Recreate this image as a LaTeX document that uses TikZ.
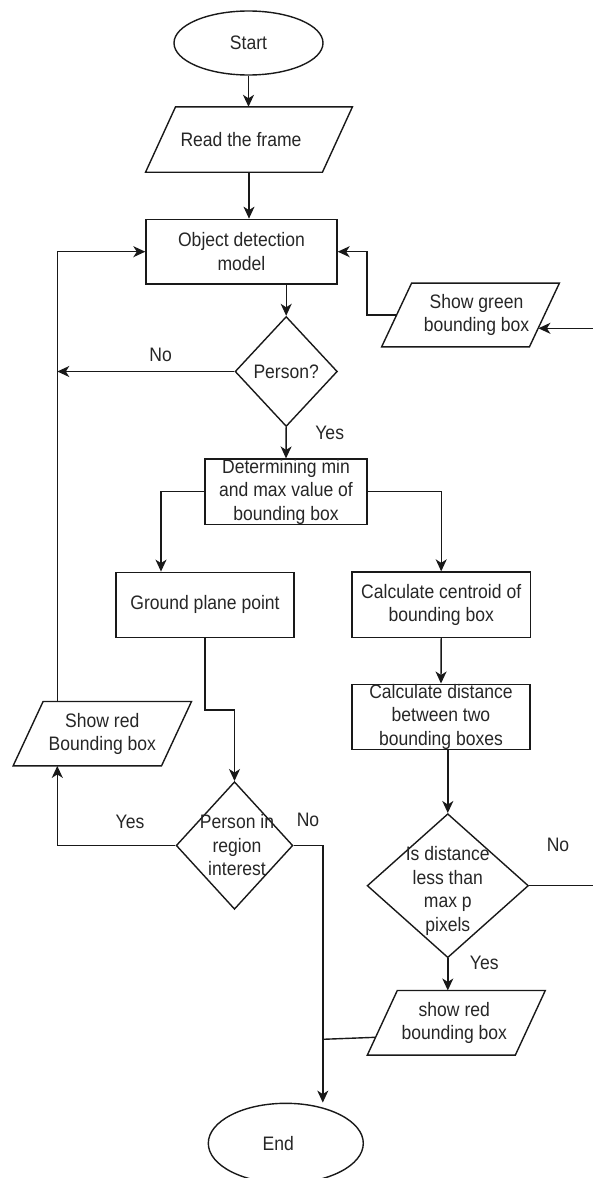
\documentclass[tikz,border=0pt]{standalone}
\usepackage{fontspec}
\setmainfont{Liberation Sans}[FakeStretch=0.9]
\usetikzlibrary{shapes.geometric,arrows.meta,calc}
\tikzset{
  base/.style={inner sep=0pt, text=black!85, font=\fontsize{19.5}{23.5}\selectfont, align=center},
  term/.style={base, ellipse, draw=black!90, line width=1.4pt},
  proc/.style={base, rectangle, draw=black!90, line width=1.4pt},
  iobox/.style={base, rectangle},
  decide/.style={base, diamond, draw=black!90, line width=1.4pt},
  conn/.style={draw=black!90, line width=1.4pt},
  arr/.style={conn, -{Stealth[length=12pt,width=11pt,inset=3.5pt]}},
  lbl/.style={base},
  outline/.style={draw=black!90, line width=1.4pt, line join=miter},
}
\newcommand\iooutline[1]{\draw[outline] ([xshift=15pt]#1.north west) -- ([xshift=15pt]#1.north east) -- ([xshift=-15pt]#1.south east) -- ([xshift=-15pt]#1.south west) -- cycle;}
\begin{document}
\begin{tikzpicture}[x=1pt,y=-1pt]
\useasboundingbox (0,0) rectangle (593,1178);
% nodes
\node[term, minimum width=149pt, minimum height=64pt] (start) at (248.5,43) {Start};
\node[iobox, minimum width=176.5pt, minimum height=65pt, label={[base,xshift=-8pt]center:Read the frame}] (read) at (249,139.5) {};
\node[proc, minimum width=191pt, minimum height=64.7pt] (obj) at (241.5,251.7) {Object detection\\model};
\node[iobox, minimum width=147.4pt, minimum height=63.4pt, label={[base,xshift=6pt]center:{Show green\\bounding box}}] (green) at (470.5,315) {};
\node[decide, minimum width=102.3pt, minimum height=110pt, label={[base]center:Person?}] (person) at (286.2,371.5) {};
\node[proc, minimum width=162pt, minimum height=64.7pt] (det) at (286,491.7) {Determining min\\and max value of\\bounding box};
\node[proc, minimum width=178pt, minimum height=65pt] (ground) at (205,604.8) {Ground plane point};
\node[proc, minimum width=178.3pt, minimum height=65.3pt] (cent) at (441.2,604.7) {Calculate centroid of\\bounding box};
\node[proc, minimum width=178pt, minimum height=65pt] (dist) at (441,716.8) {Calculate distance\\between two\\bounding boxes};
\node[iobox, minimum width=148pt, minimum height=64pt, label={[base]center:{Show red\\Bounding box}}] (redL) at (102.3,733.7) {};
\node[decide, minimum width=116.7pt, minimum height=127.6pt, label={[base,xshift=2.5pt]center:{Person in\\region\\interest}}] (region) at (234.5,845.5) {};
\node[decide, minimum width=161.3pt, minimum height=144pt, label={[base,yshift=-5pt]center:{Is distance\\less than\\max p\\pixels}}] (distd) at (447.8,885.7) {};
\node[iobox, minimum width=147.6pt, minimum height=64.3pt, label={[base,xshift=-2pt]center:{show red\\bounding box}}] (redR) at (456.3,1022.8) {};
\node[term, minimum width=155pt, minimum height=80pt, label={[base,xshift=-7.5pt]center:End}] (end) at (285.8,1143.3) {};
% parallelogram outlines
\iooutline{read}
\iooutline{green}
\iooutline{redL}
\iooutline{redR}
% labels
\node[lbl] (no1) at (160.7,355) {No};
\node[lbl] (yes1) at (329.7,433.3) {Yes};
\node[lbl] (yes2) at (130,821.7) {Yes};
\node[lbl] (no2) at (308,820) {No};
\node[lbl] (no3) at (558,845) {No};
\node[lbl] (yes3) at (484.3,963.3) {Yes};
% connectors
\coordinate (lx) at ([xshift=-45pt]redL.north);
\coordinate (greenin) at ($(green.east)+(-6,13.3)$);
\coordinate (redRin) at ($(redR.west)+(-7,14.5)$);
\coordinate (joinR) at (322.8,1039.3);
\draw[arr] (start.south) -- (start.south |- read.north);
\draw[arr] (read.south) -- (read.south |- obj.north);
\draw[arr] (obj.south -| person.north) -- (person.north);
\draw[arr] (person.south) -- (det.north);
\draw[arr] (person.west) -- (person.west -| lx);
\draw[arr] (lx) |- (obj.west);
\draw[arr] (green.west) -- ++(-29.5,0) |- (obj.east);
\draw[arr] (distd.east) -- ++(68,0) |- (greenin);
\draw[arr] (det.west) -| ([xshift=-44pt]ground.north);
\draw[arr] (det.east) -| (cent.north);
\draw[arr] (cent.south) -- (dist.north);
\draw[arr] (ground.south) -- ++(0,72) -| (region.north);
\draw[arr] (distd.north |- dist.south) -- (distd.north);
\draw[arr] (region.west) -| ([xshift=-45pt]redL.south);
\draw[arr] (region.east) -| ([xshift=37pt]end.north);
\draw[arr] (distd.south) -- (distd.south |- redR.north);
\draw[conn] (redRin) -- (joinR);
\end{tikzpicture}
\end{document}
